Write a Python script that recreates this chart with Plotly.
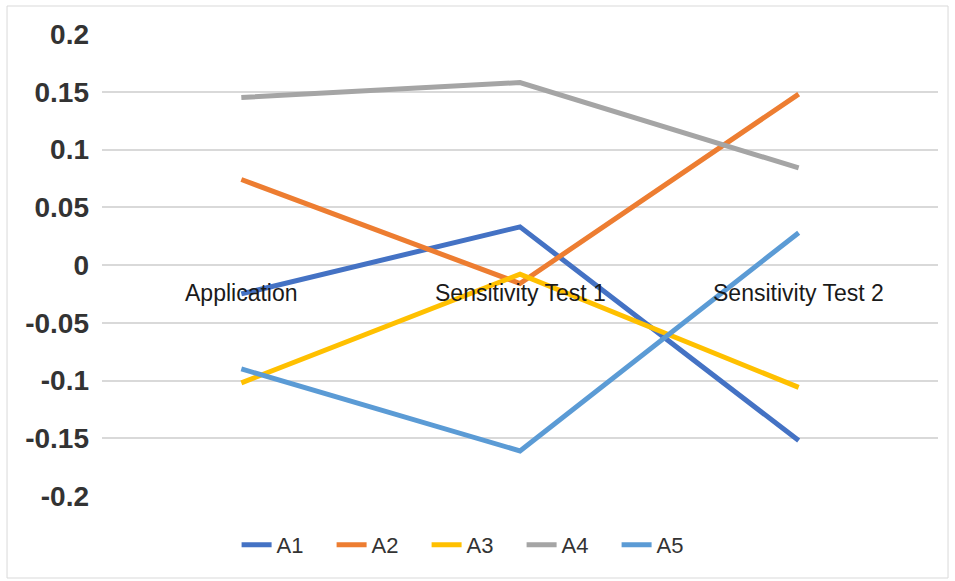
import plotly.graph_objects as go

categories = ["Application", "Sensitivity Test 1", "Sensitivity Test 2"]
series_names = ["A1", "A2", "A3", "A4", "A5"]
a1 = [-0.025, 0.033, -0.152]
a2 = [0.074, -0.016, 0.148]
a3 = [-0.102, -0.008, -0.106]
a4 = [0.145, 0.158, 0.084]
a5 = [-0.090, -0.161, 0.028]
tick_vals = [-0.2, -0.15, -0.1, -0.05, 0, 0.05, 0.1, 0.15, 0.2]
tick_text = ["-0.2", "-0.15", "-0.1", "-0.05", "0", "0.05", "0.1", "0.15", "0.2"]

colors = ["#4472C4", "#ED7D31", "#FFC000", "#A5A5A5", "#5B9BD5"]
values = [a1, a2, a3, a4, a5]

FONT = "Liberation Sans, Arial"

fig = go.Figure()
for name, vals, col in zip(series_names, values, colors):
    fig.add_trace(go.Scatter(
        x=categories, y=vals, name=name, mode="lines",
        line=dict(color=col, width=5),
    ))

# category labels sit just under the zero line
for c in categories:
    fig.add_annotation(
        x=c, y=0, xref="x", yref="y", text=c, showarrow=False,
        yanchor="middle", yshift=-28,
        font=dict(family=FONT, size=23, color="#1a1a1a"),
    )

# outer chart frame
fig.add_shape(
    type="rect", xref="paper", yref="paper",
    x0=-0.1136, x1=1.012, y0=-0.1775, y1=1.0606,
    line=dict(color="#d9d9d9", width=1), fillcolor="rgba(0,0,0,0)",
)

fig.update_layout(
    width=955, height=581,
    margin=dict(l=102, r=17, t=34, b=85),
    paper_bgcolor="white", plot_bgcolor="white",
    font=dict(family=FONT, color="#333333"),
    showlegend=True,
    legend=dict(
        orientation="h", x=0.161, xanchor="left", y=-0.106, yanchor="middle",
        font=dict(size=22, color="#333333"),
        entrywidth=50, entrywidthmode="pixels",
        bgcolor="rgba(0,0,0,0)",
    ),
    xaxis=dict(
        showticklabels=False, showgrid=False, zeroline=False,
        showline=False, ticks="", range=[-0.5, 2.5],
    ),
    yaxis=dict(
        range=[-0.2, 0.2], tickvals=tick_vals, ticktext=tick_text,
        showgrid=True, gridcolor="#d9d9d9", gridwidth=2,
        zeroline=False, showline=False, ticks="",
        tickfont=dict(size=28, color="#333333", family=FONT, weight="bold"),
        ticklabelstandoff=12,
    ),
)

fig.write_html("out.html")
